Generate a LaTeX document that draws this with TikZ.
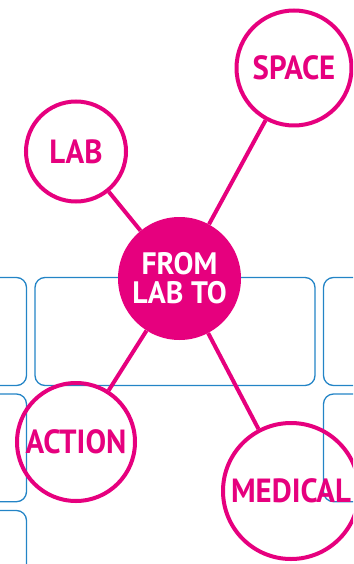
\documentclass[tikz,border=0pt]{standalone}
\usepackage{fontspec}
\setmainfont{PT Sans}
\newfontfamily\bubblefont[FakeStretch=0.92]{PT Sans}
\newfontfamily\hubfont[FakeStretch=0.96]{PT Sans}
\definecolor{labpink}{RGB}{230,0,126}
\definecolor{gridblue}{RGB}{35,132,198}

\begin{document}
\begin{tikzpicture}[
    x=1pt, y=-1pt,
    bubble/.style={
        circle,
        draw=labpink,
        line width=4pt,
        inner sep=0pt,
        text=labpink,
        font=\bubblefont\fontsize{33.5}{33.5}\selectfont\bfseries,
        align=center
    },
    hub/.style={
        circle,
        fill=labpink,
        inner sep=0pt,
        minimum size=123pt,
        text=white,
        font=\hubfont\fontsize{31}{29}\selectfont\bfseries,
        align=center
    },
    tile/.style={
        draw=gridblue,
        line width=1.3pt,
        rounded corners=10pt
    },
    link/.style={
        draw=labpink,
        line width=4pt
    }
]
\useasboundingbox (0,0) rectangle (353,564);
\clip (0,0) rectangle (353,564);

% blue grid behind
\draw[tile] (-150,277.5) rectangle (26.5,385.5);
\draw[tile] (35,277.5) rectangle (315,385.5);
\draw[tile] (323.5,277.5) rectangle (600,385.5);
\draw[tile] (-150,394) rectangle (26.5,501.7);
\draw[tile] (323.5,394) rectangle (600,501.7);
\draw[tile] (-150,510.5) rectangle (26.5,700);

\node[hub] (hub) at (179.5,278.5) {FROM\\LAB TO};
\node[bubble, minimum size=100pt] (lab) at (76,151.5) {LAB};
\node[bubble, minimum size=115pt] (space) at (294,68) {SPACE};
\node[bubble, minimum size=118pt] (action) at (76,442) {ACTION};
\node[bubble, minimum size=136pt] (medical) at (291,491) {MEDICAL};

\draw[link] (lab) -- (hub);
\draw[link] (space) -- (hub);
\draw[link] (action) -- (hub);
\draw[link] (medical) -- (hub);

\end{tikzpicture}
\end{document}
